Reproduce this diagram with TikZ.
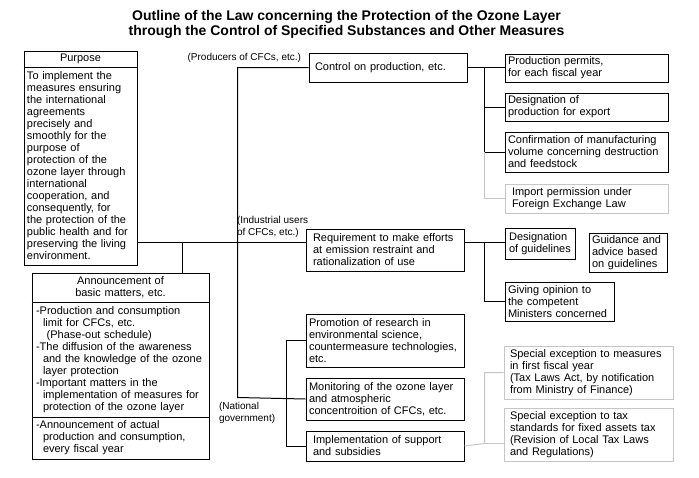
\documentclass[tikz,border=0pt]{standalone}
\usepackage{fontspec}
\setmainfont{Liberation Sans}
\usetikzlibrary{positioning}

\newcommand{\boxfont}{\fontsize{11}{12}\selectfont}
\newcommand{\lblfont}{\fontsize{10}{12}\selectfont}
\newcommand{\ind}{\hspace*{7pt}}

\begin{document}
\begin{tikzpicture}[
    x=1pt, y=-1pt, shift={(0.5,0.5)}, line width=1pt,
    box/.style={draw, rectangle, anchor=north west, align=left, inner xsep=3pt, inner ysep=2pt, font=\boxfont},
    head/.style={box, align=center},
    faint/.style={draw=gray!45},
    lbl/.style={font=\lblfont, inner sep=0pt, align=left}
  ]
  \useasboundingbox (-0.5,-0.5) rectangle (698.5,476.5);

  \node[font=\fontsize{14}{15}\selectfont\bfseries, align=center] (title) at (346,24)
    {Outline of the Law concerning the Protection of the Ozone Layer\\
     through the Control of Specified Substances and Other Measures};

  % purpose and announcement
  \node[head, text width=107pt, minimum height=16pt] (purphead) at (23,50) {Purpose};
  \node[box, text width=107pt, minimum height=198pt] (purp) at (23,66) {To implement the\\measures ensuring\\the international\\agreements\\precisely and\\smoothly for the\\purpose of\\protection of the\\ozone layer through\\international\\cooperation, and\\consequently, for\\the protection of the\\public health and for\\preserving the living\\environment.};
  \draw[line width=1.8pt] (purphead.south west) -- (purphead.south east);

  \node[head, text width=171pt, minimum height=29pt] (annhead) at (31,272) {Announcement of\\basic matters, etc.};
  \node[box, inner xsep=4pt, text width=169pt, minimum height=115pt] (annmid) at (31,301) {-Production and consumption\\\ind limit for CFCs, etc.\\\ind\ (Phase-out schedule)\\-The diffusion of the awareness\\\ind and the knowledge of the ozone\\\ind layer protection\\-Important matters in the\\\ind implementation of measures for\\\ind protection of the ozone layer};
  \node[box, inner xsep=4pt, text width=169pt, minimum height=42pt] (annbot) at (31,416) {-Announcement of actual\\\ind production and consumption,\\\ind every fiscal year};
  \draw[line width=1.8pt] (annhead.south west) -- (annhead.south east);

  % middle column
  \node[box, inner xsep=6pt, text width=146pt, minimum height=29pt] (ctrl) at (308,52) {Control on production, etc.};
  \node[box, inner xsep=7pt, text width=144pt, minimum height=42pt] (req) at (305,228) {Requirement to make efforts\\at emission restraint and\\rationalization of use};
  \node[box, text width=152pt, minimum height=53pt] (promo) at (305,313) {Promotion of research in\\environmental science,\\countermeasure technologies,\\etc.};
  \node[box, text width=152pt, minimum height=42pt, below=10pt of promo.south west, anchor=north west] (monitor) {Monitoring of the ozone layer\\and atmospheric\\concentroition of CFCs, etc.};
  \node[box, inner xsep=7pt, text width=144pt, minimum height=30pt, below=10pt of monitor.south west, anchor=north west] (impl) {Implementation of support\\and subsidies};

  \node[lbl, anchor=east] (producers) at (301,57) {(Producers of CFCs, etc.)};
  \node[lbl, anchor=south west] (users) at (236,238) {(Industrial users\\of CFCs, etc.)};
  \node[lbl, anchor=north west] (natgov) at (218,401) {(National\\government)};

  % right column
  \node[box, text width=157pt, minimum height=28pt] (permit) at (504,53) {Production permits,\\for each fiscal year};
  \node[box, text width=157pt, minimum height=28pt, below=10pt of permit.south west, anchor=north west] (export) {Designation of\\production for export};
  \node[box, text width=157pt, minimum height=40pt, below=10pt of export.south west, anchor=north west] (confirm) {Confirmation of manufacturing\\volume concerning destruction\\and feedstock};
  \node[box, faint, inner xsep=7pt, text width=149pt, minimum height=29pt, below=11pt of confirm.south west, anchor=north west] (import) {Import permission under\\Foreign Exchange Law};

  \node[box, inner xsep=2pt, minimum width=70pt, minimum height=31pt] (guide) at (504,227) {Designation\\of guidelines};
  \node[box, text width=72pt, minimum height=39pt] (advice) at (588,232) {Guidance and\\advice based\\on guidelines};
  \node[box, text width=103pt, minimum height=39pt] (opinion) at (504,281) {Giving opinion to\\the competent\\Ministers concerned};

  \node[box, faint, inner xsep=6pt, text width=157pt, minimum height=53pt] (spec1) at (503,345) {Special exception to measures\\in first fiscal year\\(Tax Laws Act, by notification\\from Ministry of Finance)};
  \node[box, faint, inner xsep=6pt, text width=157pt, minimum height=53pt, below=8pt of spec1.south west, anchor=north west] (spec2) {Special exception to tax\\standards for fixed assets tax\\(Revision of Local Tax Laws\\and Regulations)};

  % connectors
  \coordinate (junc) at (182,242);
  \coordinate (trunk) at (237,397);
  \coordinate (gbus) at (286,397);
  \coordinate (cbus) at (484,67);
  \coordinate (rbus) at (484,242);
  \coordinate (sbus) at (484,443);

  \draw (purp.east |- junc) -- (req.west |- junc);
  \draw (junc) -- (junc |- annhead.north);
  \draw (ctrl.west) -| (trunk) -- (monitor.west);
  \draw (promo.west) -| (gbus) |- (impl.west);

  \draw (ctrl.east) -- (ctrl.east -| permit.west);
  \draw (cbus) |- (export.west);
  \draw (cbus) |- (confirm.west);
  \draw[faint] (cbus |- confirm.west) |- (import.west);

  \draw (req.east |- rbus) -- (guide.west |- rbus);
  \draw (rbus) |- (opinion.west);

  \draw[faint] (impl.east) -- (sbus) |- (spec1.west);
  \draw[faint] (sbus) -- (sbus -| spec2.west);

\end{tikzpicture}
\end{document}
